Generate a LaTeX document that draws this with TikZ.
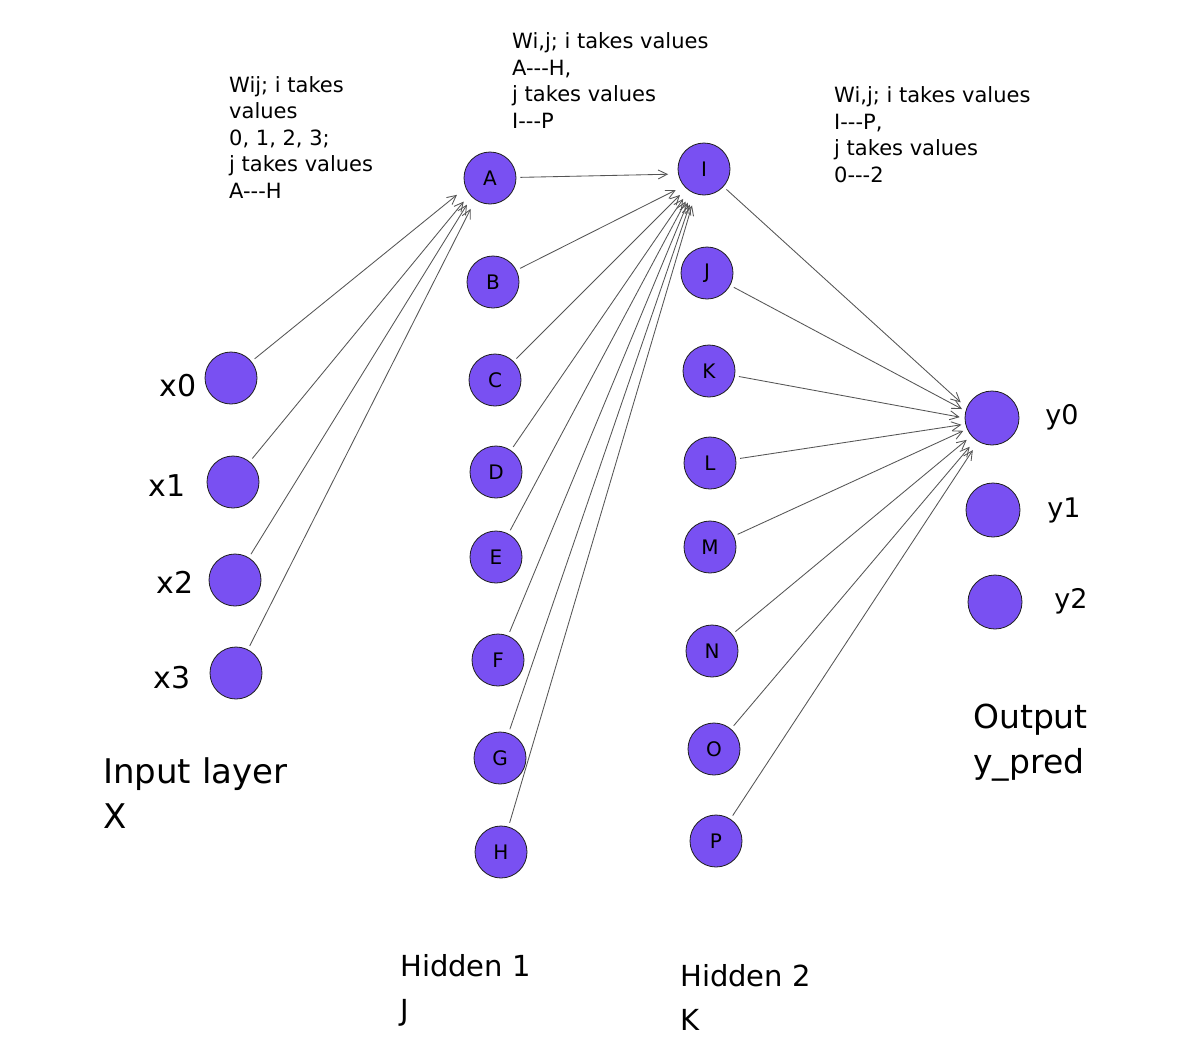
\documentclass[tikz,border=0pt]{standalone}
\usepackage{fontspec}
\setmainfont{DejaVu Sans}
\usetikzlibrary{arrows.meta}
\definecolor{nodefill}{RGB}{121,80,242}
\definecolor{nodeline}{RGB}{30,30,30}
\definecolor{edgecol}{RGB}{85,85,85}
\newcommand{\tdash}{-{}-{}-}
\begin{document}
\begin{tikzpicture}[x=1pt,y=-1pt,
  neuron/.style={circle, draw=nodeline, line width=0.8pt, fill=nodefill, minimum size=52pt, inner sep=0pt, font=\fontsize{20}{20}\selectfont},
  conn/.style={draw=edgecol, line width=0.85pt, -{Straight Barb[length=9pt,width=9pt]}, shorten <=4pt},
  note/.style={align=left, anchor=base west, inner sep=0pt, font=\fontsize{21}{26.5}\selectfont},
  lbl/.style={anchor=base, inner sep=0pt, font=\fontsize{30}{30}\selectfont},
  ylbl/.style={anchor=base, inner sep=0pt, font=\fontsize{27}{27}\selectfont},
  layer/.style={align=left, anchor=base west, inner sep=0pt}]
\useasboundingbox (0,0) rectangle (1183,1060);
\fill[white] (0,0) rectangle (1183,1060);

% input layer
\node[neuron] (x0) at (231,378) {};
\node[neuron] (x1) at (233,482) {};
\node[neuron] (x2) at (235,580) {};
\node[neuron] (x3) at (236,673) {};
\node[lbl] (lx0) at (178,396) {x0};
\node[lbl] (lx1) at (167,496) {x1};
\node[lbl] (lx2) at (175,593) {x2};
\node[lbl] (lx3) at (172,688) {x3};

% hidden 1
\node[neuron] (A) at (490,178) {A};
\node[neuron] (B) at (493,282) {B};
\node[neuron] (C) at (495,380) {C};
\node[neuron] (D) at (496,472) {D};
\node[neuron] (E) at (496,557) {E};
\node[neuron] (F) at (498,660) {F};
\node[neuron] (G) at (500,758) {G};
\node[neuron] (H) at (501,852) {H};

% hidden 2
\node[neuron] (I) at (704,169) {I};
\node[neuron] (J) at (707,273) {J};
\node[neuron] (K) at (709,371) {K};
\node[neuron] (L) at (710,463) {L};
\node[neuron] (M) at (710,547) {M};
\node[neuron] (N) at (712,651) {N};
\node[neuron] (O) at (714,749) {O};
\node[neuron] (P) at (716,841) {P};

% output
\node[neuron, minimum size=54pt] (y0) at (992,418) {};
\node[neuron, minimum size=54pt] (y1) at (993,510) {};
\node[neuron, minimum size=54pt] (y2) at (995,602) {};
\node[ylbl] (ly0) at (1062,424) {y0};
\node[ylbl] (ly1) at (1064,517) {y1};
\node[ylbl] (ly2) at (1071,608) {y2};

% connectors input -> A
\draw[conn, shorten >=11pt] (x0) -- (A.202);
\draw[conn, shorten >=9pt] (x1) -- (A.219);
\draw[conn, shorten >=9pt] (x2) -- (A.226);
\draw[conn, shorten >=10pt] (x3) -- (A.236);

% hidden1 -> I
\draw[conn, shorten >=10pt] (A) -- (I.191);
\draw[conn, shorten >=9pt] (B) -- (I.220);
\draw[conn, shorten >=9pt] (C) -- (I.228);
\draw[conn, shorten >=10pt] (D) -- (I.235);
\draw[conn, shorten >=11pt] (E) -- (I.240);
\draw[conn, shorten >=11pt] (F) -- (I.243);
\draw[conn, shorten >=12pt] (G) -- (I.247);
\draw[conn, shorten >=12pt] (H) -- (I.251);

% hidden2 -> y0
\draw[conn, shorten >=8pt] (I) -- (y0.158);
\draw[conn, shorten >=4pt] (J) -- (y0.165);
\draw[conn, shorten >=5pt] (K) -- (y0.180);
\draw[conn, shorten >=4pt] (L) -- (y0.193);
\draw[conn, shorten >=4pt] (M) -- (y0.204);
\draw[conn, shorten >=6pt] (N) -- (y0.221);
\draw[conn, shorten >=9pt] (O) -- (y0.233);
\draw[conn, shorten >=10pt] (P) -- (y0.240);

% notes (anchor = baseline of last line)
\node[note] (n1) at (229,198) {Wij; i takes\\values\\0, 1, 2, 3;\\j takes values\\A\tdash H};
\node[note] (n2) at (512,128) {Wi,j; i takes values\\A\tdash H,\\j takes values\\I\tdash P};
\node[note] (n3) at (834,182) {Wi,j; i takes values\\I\tdash P,\\j takes values\\0\tdash 2};

% layer labels (anchor = baseline of last line)
\node[layer, font=\fontsize{34}{45}\selectfont] (t1) at (103,828) {Input layer\\X};
\node[layer, font=\fontsize{29}{44}\selectfont] (t2) at (400,1020) {Hidden 1\\J};
\node[layer, font=\fontsize{29}{44}\selectfont] (t3) at (680,1030) {Hidden 2\\K};
\node[layer, font=\fontsize{33}{45}\selectfont] (t4) at (973,773) {Output\\y\_pred};
\end{tikzpicture}
\end{document}
